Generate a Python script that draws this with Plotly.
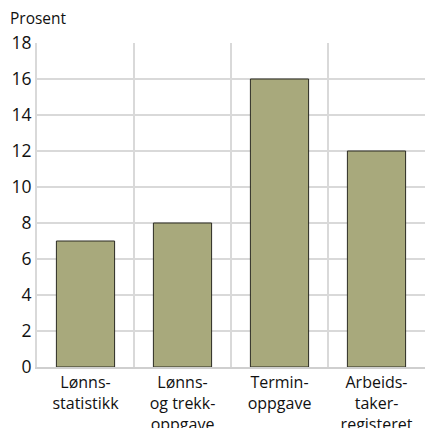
import plotly.graph_objects as go

categories = ["Lønns-<br>statistikk", "Lønns-<br>og trekk-<br>oppgave", "Termin-<br>oppgave", "Arbeids-<br>taker-<br>registeret"]
values = [7, 8, 16, 12]
y_ticks = [0, 2, 4, 6, 8, 10, 12, 14, 16, 18]

fig = go.Figure(go.Bar(
    x=categories, y=values, width=0.6,
    marker=dict(color="#a8a97c", line=dict(color="#2b2b22", width=1)),
))

font = "Open Sans, Noto Sans, sans-serif"
fig.update_layout(
    width=425, height=428,
    margin=dict(l=37, r=0, t=43, b=61),
    paper_bgcolor="white", plot_bgcolor="white",
    font=dict(family=font, size=16, color="#111111"),
    showlegend=False,
    bargap=0.4,
)
fig.update_xaxes(
    type="category", tickson="boundaries", showgrid=True,
    gridcolor="#d9d9d9", gridwidth=2, automargin=False,
    showline=True, linecolor="#cfcfcf", linewidth=2,
    ticks="", tickfont=dict(size=16), range=[-0.5, 3.5],
)
fig.update_yaxes(
    range=[0, 18], tickvals=y_ticks, showgrid=True,
    gridcolor="#d9d9d9", gridwidth=2, automargin=False,
    showline=True, linecolor="#d9d9d9", linewidth=2,
    ticks="", tickfont=dict(size=17.5), zeroline=False,
)
fig.add_annotation(text="Prosent", xref="paper", yref="paper", x=-29/388, y=1,
                   xanchor="left", yanchor="bottom", yshift=12, showarrow=False,
                   font=dict(size=15.5, family=font, color="#111111"))
fig.write_html("out.html", config={"displayModeBar": False},
               post_script="document.body.style.margin='0';document.body.style.overflow='hidden';")
